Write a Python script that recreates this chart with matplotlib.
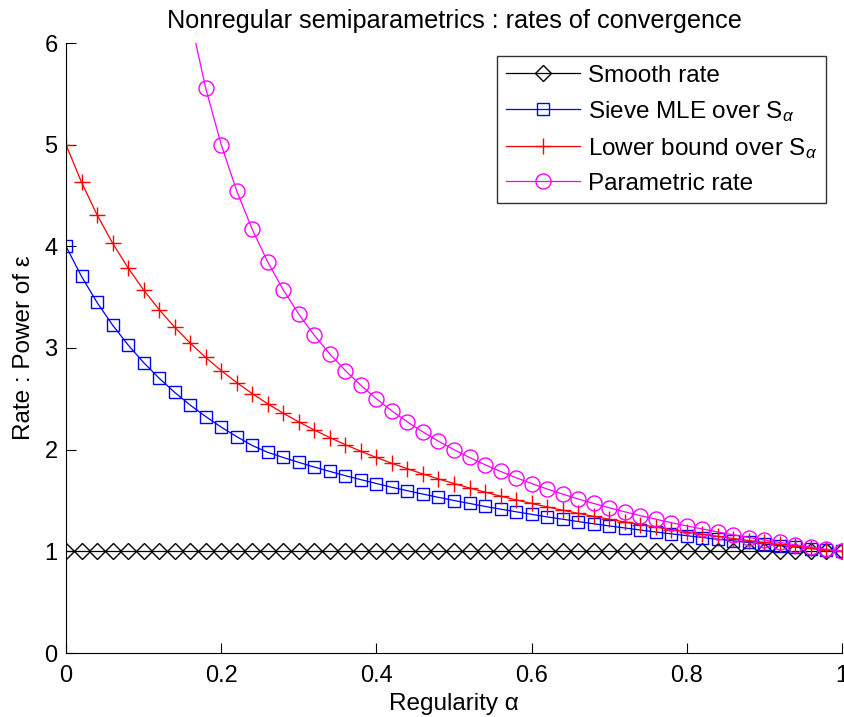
import matplotlib
matplotlib.use("Agg")
import matplotlib.pyplot as plt
import numpy as np

plt.rcParams['font.family'] = ['Liberation Sans', 'DejaVu Sans']
plt.rcParams['mathtext.fontset'] = 'custom'
plt.rcParams['mathtext.rm'] = 'Liberation Sans'
plt.rcParams['mathtext.it'] = 'Liberation Sans:italic'

alpha = [0.00, 0.02, 0.04, 0.06, 0.08, 0.10, 0.12, 0.14, 0.16, 0.18,
         0.20, 0.22, 0.24, 0.26, 0.28, 0.30, 0.32, 0.34, 0.36, 0.38,
         0.40, 0.42, 0.44, 0.46, 0.48, 0.50, 0.52, 0.54, 0.56, 0.58,
         0.60, 0.62, 0.64, 0.66, 0.68, 0.70, 0.72, 0.74, 0.76, 0.78,
         0.80, 0.82, 0.84, 0.86, 0.88, 0.90, 0.92, 0.94, 0.96, 0.98, 1.00]

smooth_rate = [1.0] * 51

sieve_mle = [4.000, 3.704, 3.448, 3.226, 3.030, 2.857, 2.703, 2.564, 2.439, 2.326,
             2.222, 2.128, 2.041, 1.974, 1.923, 1.875, 1.829, 1.786, 1.744, 1.705,
             1.667, 1.630, 1.596, 1.563, 1.531, 1.500, 1.471, 1.442, 1.415, 1.389,
             1.364, 1.339, 1.316, 1.293, 1.271, 1.250, 1.230, 1.210, 1.190, 1.172,
             1.154, 1.136, 1.119, 1.103, 1.087, 1.071, 1.056, 1.042, 1.027, 1.014, 1.000]

lower_bound = [5.000, 4.630, 4.310, 4.032, 3.788, 3.571, 3.378, 3.205, 3.049, 2.907,
               2.778, 2.660, 2.551, 2.451, 2.358, 2.273, 2.193, 2.119, 2.049, 1.984,
               1.923, 1.866, 1.812, 1.761, 1.712, 1.667, 1.623, 1.582, 1.543, 1.506,
               1.471, 1.437, 1.404, 1.374, 1.344, 1.316, 1.289, 1.263, 1.238, 1.214,
               1.190, 1.168, 1.147, 1.126, 1.106, 1.087, 1.068, 1.050, 1.033, 1.016, 1.000]

parametric = [np.nan, 50.0, 25.0, 16.667, 12.5, 10.0, 8.333, 7.143, 6.25, 5.556,
              5.000, 4.545, 4.167, 3.846, 3.571, 3.333, 3.125, 2.941, 2.778, 2.632,
              2.500, 2.381, 2.273, 2.174, 2.083, 2.000, 1.923, 1.852, 1.786, 1.724,
              1.667, 1.613, 1.563, 1.515, 1.471, 1.429, 1.389, 1.351, 1.316, 1.282,
              1.250, 1.220, 1.190, 1.163, 1.136, 1.111, 1.087, 1.064, 1.042, 1.020, 1.000]

fig = plt.figure(figsize=(8.44, 7.17), dpi=100)
ax = fig.add_axes([66/844, 1 - 653/717, (842 - 66)/844, (653 - 43)/717])

lw = 0.9
fs = 17.5
ax.plot(alpha, smooth_rate, color='black', lw=lw, marker='D', ms=7.8,
        mfc='none', mec='black', mew=1.0, label='Smooth rate')
ax.plot(alpha, sieve_mle, color='blue', lw=lw, marker='s', ms=8.7,
        mfc='none', mec='blue', mew=1.0, label='Sieve MLE over S$_\\alpha$')
ax.plot(alpha, lower_bound, color='red', lw=lw, marker='+', ms=11,
        mec='red', mew=1.0, label='Lower bound over S$_\\alpha$')
ax.plot(alpha, parametric, color='magenta', lw=lw, marker='o', ms=10.8,
        mfc='none', mec='magenta', mew=1.0, label='Parametric rate')

ax.set_xlim(0, 1)
ax.set_ylim(0, 6)
ax.set_xticks([0, 0.2, 0.4, 0.6, 0.8, 1])
ax.set_xticklabels(['0', '0.2', '0.4', '0.6', '0.8', '1'])
ax.set_yticks([0, 1, 2, 3, 4, 5, 6])
ax.spines['top'].set_visible(False)
ax.spines['right'].set_visible(False)
ax.tick_params(direction='in', length=7, width=0.8, labelsize=17)
ax.tick_params(axis='x', pad=9)
ax.tick_params(axis='y', pad=6)

ax.set_title('Nonregular semiparametrics : rates of convergence', fontsize=18.2, pad=11)
ax.set_xlabel('Regularity α', fontsize=fs, labelpad=4)
ax.set_ylabel('Rate : Power of ε', fontsize=fs, labelpad=7)

leg = ax.legend(loc='upper right', bbox_to_anchor=(826/844, 1 - 56/717),
                bbox_transform=fig.transFigure, borderaxespad=0,
                fontsize=fs, frameon=True,
                fancybox=False, edgecolor='black', handlelength=3.05,
                borderpad=0.35, labelspacing=0.5, handletextpad=0.33)
leg.get_frame().set_linewidth(1.0)

fig.savefig('out.png', dpi=100)
